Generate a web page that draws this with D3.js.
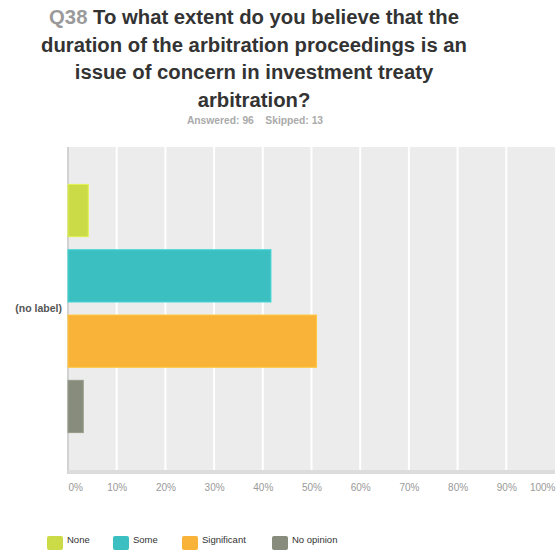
<!DOCTYPE html>
<html>
<head>
<meta charset="utf-8">
<script src="https://cdn.jsdelivr.net/npm/d3@7"></script>
<style>
  html, body { margin: 0; padding: 0; background: #fff; }
  svg { display: block; font-family: Arial, "Liberation Sans", sans-serif; }
</style>
</head>
<body>
<svg id="chart" width="557" height="551"></svg>
<script>
const titleLines = [
  "To what extent do you believe that the",
  "duration of the arbitration proceedings is an",
  "issue of concern in investment treaty",
  "arbitration?"
];
const questionId = "Q38";
const answeredText = "Answered: 96    Skipped: 13";
const rowLabel = "(no label)";
const categories = ["None", "Some", "Significant", "No opinion"];
const values = [4.17, 41.67, 51.04, 3.13];
const colors = ["#cbdb47", "#3cbfc1", "#f9b338", "#878c7c"];
const tickValues = [0, 10, 20, 30, 40, 50, 60, 70, 80, 90, 100];

const svg = d3.select("#chart");
const pLeft = 68, pRight = 555, pTop = 147, pBottom = 470;

// Title
const title = svg.append("text").attr("text-anchor", "middle")
  .attr("font-size", 20.3).attr("font-weight", "bold").attr("fill", "#333");
titleLines.forEach((line, i) => {
  const t = title.append("tspan").attr("x", 254).attr("y", 24 + i * 27.7);
  if (i === 0) {
    t.append("tspan").attr("fill", "#9a9a9a").text(questionId + " ");
    t.append("tspan").text(line);
  } else {
    t.text(line);
  }
});
svg.append("text").attr("x", 255).attr("y", 124).attr("text-anchor", "middle")
  .attr("font-size", 10.3).attr("font-weight", "bold").attr("fill", "#aaa")
  .style("white-space", "pre").text(answeredText);

// Scales
const x = d3.scaleLinear().domain([0, 100]).range([pLeft, pRight]);
const y = d3.scaleBand().domain(categories).range([pTop, pBottom])
  .paddingInner(0.2).paddingOuter(0.573);

// Background
svg.append("rect").attr("x", pLeft).attr("y", pTop)
  .attr("width", pRight - pLeft).attr("height", pBottom - pTop).attr("fill", "#ececec");

// Grid lines
svg.append("g").selectAll("line").data(tickValues.slice(1, -1)).join("line")
  .attr("x1", d => x(d)).attr("x2", d => x(d))
  .attr("y1", pTop).attr("y2", pBottom)
  .attr("stroke", "#fff").attr("stroke-width", 2);

// Left axis line
svg.append("line").attr("x1", pLeft).attr("x2", pLeft).attr("y1", pTop).attr("y2", pBottom + 4)
  .attr("stroke", "#d2d2d2").attr("stroke-width", 2);

// Bars
svg.append("g").selectAll("rect").data(categories).join("rect")
  .attr("x", x(0)).attr("y", d => y(d))
  .attr("width", (d, i) => x(values[i]) - x(0))
  .attr("height", y.bandwidth())
  .attr("fill", (d, i) => colors[i])
  .attr("stroke", (d, i) => d3.color(colors[i]).brighter(0.3))
  .attr("stroke-width", 1);

// Bottom axis band
svg.append("rect").attr("x", pLeft).attr("y", pBottom).attr("width", pRight - pLeft).attr("height", 4)
  .attr("fill", "#dcdcdc");

// X axis ticks
const xAxis = d3.axisBottom(x).tickValues(tickValues).tickFormat(d => d + "%").tickSize(0).tickPadding(0);
const gx = svg.append("g").attr("transform", `translate(0, ${pBottom + 14})`).call(xAxis);
gx.select(".domain").remove();
gx.selectAll("text").attr("font-size", 10).attr("fill", "#999").attr("font-family", "Arial, 'Liberation Sans', sans-serif")
  .attr("dy", "0.71em")
  .attr("text-anchor", d => d === 0 ? "start" : (d === 100 ? "end" : "middle"));

// Row label
svg.append("text").attr("x", 62).attr("y", (pTop + pBottom) / 2).attr("dy", "0.35em")
  .attr("text-anchor", "end").attr("font-size", 10.5).attr("font-weight", "bold").attr("fill", "#555")
  .text(rowLabel);

// Legend
const legendX = [47, 113, 182, 272];
const lg = svg.append("g").selectAll("g").data(categories).join("g")
  .attr("transform", (d, i) => `translate(${legendX[i]}, 536)`);
lg.append("rect").attr("width", 16).attr("height", 14).attr("rx", 2).attr("fill", (d, i) => colors[i]);
lg.append("text").attr("x", 20).attr("y", 7).attr("font-size", 9.5).attr("fill", "#333")
  .text(d => d);
</script>
</body>
</html>
